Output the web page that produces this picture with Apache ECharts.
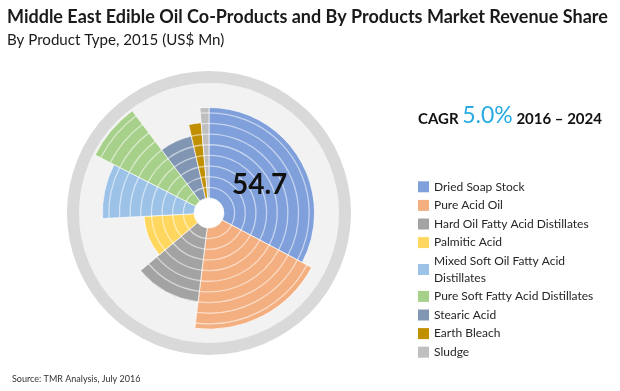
<!DOCTYPE html>
<html><head><meta charset="utf-8">
<script src="https://cdn.jsdelivr.net/npm/echarts@6/dist/echarts.min.js"></script>
<style>html,body{margin:0;padding:0;background:#fff}#c{width:620px;height:391px}</style>
</head><body><div id="c"></div>
<script>
// ---- data ----
const categories = ['Dried Soap Stock','Pure Acid Oil','Hard Oil Fatty Acid Distillates','Palmitic Acid','Mixed Soft Oil Fatty Acid Distillates','Pure Soft Fatty Acid Distillates','Stearic Acid','Earth Bleach','Sludge'];
const legendLabels = ['Dried Soap Stock','Pure Acid Oil','Hard Oil Fatty Acid Distillates','Palmitic Acid','Mixed Soft Oil Fatty Acid\nDistillates','Pure Soft Fatty Acid Distillates','Stearic Acid','Earth Bleach','Sludge'];
const revenue = [54.7, 32.0, 19.9, 17.2, 13.9, 12.1, 11.1, 3.7, 2.3];      // US$ Mn, sets slice angle
const radiusLevels = [8.5, 9.5, 7.0, 4.7, 8.6, 10.6, 6.0, 7.1, 8.5];     // slice depth (ring levels)
const colors = ['#7fa0db','#f4af80','#a3a3a3','#ffd75f','#9cc2e8','#a7d08a','#8196b2','#c09000','#bfbfbf'];
const labelledIndex = 0;
const titleText = 'Middle East Edible Oil Co-Products and By Products Market Revenue Share';
const subtitleText = 'By Product Type, 2015 (US$ Mn)';
const cagrValue = '5.0%';
const cagrPeriod = '2016 – 2024';
const sourceText = 'Source: TMR Analysis, July 2016';

// ---- build ----
const FONT = 'Lato';
const total = revenue.reduce((a, b) => a + b, 0);
const starts = [];
revenue.reduce((acc, v, i) => { starts[i] = acc; return acc + v; }, 0);

function renderSector(params, api) {
  const cs = params.coordSys;
  const lvl = api.value(0), a0 = api.value(1), a1 = api.value(2);
  const p0 = api.coord([lvl, a0]), p1 = api.coord([lvl, a1]);
  const R = Math.hypot(p0[0] - cs.cx, p0[1] - cs.cy);
  const s = Math.atan2(p0[1] - cs.cy, p0[0] - cs.cx);
  let e = Math.atan2(p1[1] - cs.cy, p1[0] - cs.cx);
  while (e <= s + 1e-6) e += Math.PI * 2;
  const children = [{
    type: 'sector',
    shape: { cx: cs.cx, cy: cs.cy, r0: cs.r0, r: R, startAngle: s, endAngle: e, clockwise: true },
    style: { fill: api.visual('color'), stroke: 'rgba(255,255,255,0.85)', lineWidth: 0.8 }
  }];
  for (let k = 1; k < 40; k++) {
    const pk = api.coord([k, a0]);
    const rk = Math.hypot(pk[0] - cs.cx, pk[1] - cs.cy);
    if (rk >= R - 2) break;
    children.push({
      type: 'arc',
      shape: { cx: cs.cx, cy: cs.cy, r: rk, startAngle: s, endAngle: e, clockwise: true },
      style: { stroke: 'rgba(255,255,255,0.55)', lineWidth: 1.3, fill: null }
    });
  }
  if (params.seriesIndex === labelledIndex) {
    const m = (s + e) / 2, rm = (cs.r0 + R) / 2;
    children.push({
      type: 'text',
      style: { text: String(revenue[labelledIndex]), x: cs.cx + rm * Math.cos(m) - 1, y: cs.cy + rm * Math.sin(m) + 3,
        align: 'center', verticalAlign: 'middle', fill: '#111', font: 'bold 28px ' + FONT }
    });
  }
  return { type: 'group', children };
}

const series = categories.map((name, i) => ({
  name,
  type: 'custom',
  coordinateSystem: 'polar',
  polarIndex: 0,
  color: colors[i],
  encode: { radius: 0, angle: [1, 2] },
  data: [[radiusLevels[i], starts[i], starts[i] + revenue[i]]],
  renderItem: renderSector,
  silent: true
}));

const option = {
  animation: false,
  backgroundColor: '#fff',
  title: [
    { text: titleText, left: 2, top: 3, textStyle: { fontFamily: FONT, fontWeight: 'bold', fontSize: 18, color: '#1a1a1a' } },
    { text: subtitleText, left: 2, top: 28, textStyle: { fontFamily: FONT, fontWeight: 'normal', fontSize: 15.1, color: '#1a1a1a' } },
    { text: '{a|CAGR }{b|' + cagrValue + '}{a| ' + cagrPeriod + '}', left: 413, top: 99,
      textStyle: { rich: {
        a: { fontFamily: FONT, fontWeight: 'bold', fontSize: 15, color: '#111', verticalAlign: 'bottom' },
        b: { fontFamily: FONT, fontWeight: 'normal', fontSize: 23, color: '#29abe2', verticalAlign: 'bottom' }
      } } },
    { text: sourceText, left: 7, top: 370, textStyle: { fontFamily: FONT, fontWeight: 'normal', fontSize: 9, color: '#333' } }
  ],
  legend: {
    orient: 'vertical', left: 413, top: 173.5, icon: 'rect', itemWidth: 11, itemHeight: 11, itemGap: 2,
    data: categories,
    formatter: name => legendLabels[categories.indexOf(name)],
    textStyle: { fontFamily: FONT, fontSize: 12, color: '#262626', lineHeight: 16.6 },
    selectedMode: false
  },
  polar: [
    { center: [209, 213], radius: [15, 130] },
    { center: [209, 213], radius: [130, 142] }
  ],
  angleAxis: [
    { polarIndex: 0, type: 'value', min: 0, max: total, startAngle: 90, clockwise: true,
      axisLine: { show: false }, axisTick: { show: false }, axisLabel: { show: false }, splitLine: { show: false },
      splitArea: { show: true, areaStyle: { color: ['#f2f2f2'] } } },
    { polarIndex: 1, type: 'value', min: 0, max: 360, interval: 90, startAngle: 90, clockwise: true,
      axisLine: { show: false }, axisTick: { show: false }, axisLabel: { show: false },
      splitLine: { show: true, lineStyle: { color: 'rgba(255,255,255,0.6)', width: 1.5 } },
      splitArea: { show: true, areaStyle: { color: ['#d9d9d9'] } } }
  ],
  radiusAxis: [
    { polarIndex: 0, type: 'value', min: 0, max: 10.8, interval: 1, axisLine: { show: false }, axisTick: { show: false }, axisLabel: { show: false }, splitLine: { show: false } },
    { polarIndex: 1, type: 'value', min: 0, max: 1, axisLine: { show: false }, axisTick: { show: false }, axisLabel: { show: false }, splitLine: { show: false } }
  ],
  series
};
const chart = echarts.init(document.getElementById('c'), null, { renderer: 'canvas' });
chart.setOption(option);
</script></body></html>
